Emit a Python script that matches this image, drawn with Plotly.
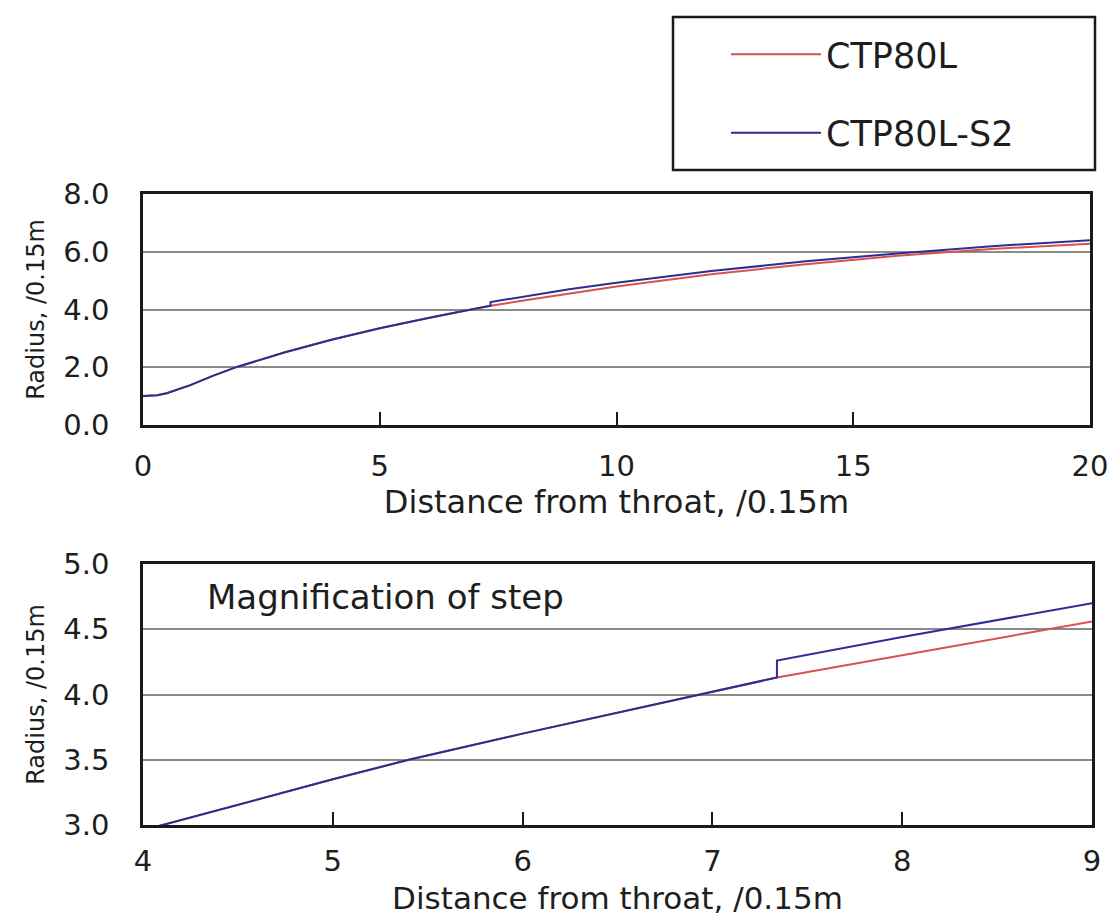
import plotly.graph_objects as go

# ---- data ----
ctp80l_x = [0, 0.3, 0.5, 0.75, 1, 1.5, 2, 3, 4, 5, 5.4, 6, 6.5, 7, 7.34,
            8, 9, 10, 12, 14, 16, 18, 20]
ctp80l_y = [1.0, 1.03, 1.1, 1.24, 1.38, 1.72, 2.02, 2.52, 2.96, 3.35, 3.5, 3.7, 3.86, 4.02, 4.13,
            4.30, 4.56, 4.80, 5.22, 5.57, 5.87, 6.10, 6.28]

ctp80ls2_x = [0, 0.3, 0.5, 0.75, 1, 1.5, 2, 3, 4, 5, 5.4, 6, 6.5, 7, 7.34,
              7.34, 8, 9, 10, 12, 14, 16, 18, 20]
ctp80ls2_y = [1.0, 1.03, 1.1, 1.24, 1.38, 1.72, 2.02, 2.52, 2.96, 3.35, 3.5, 3.7, 3.86, 4.02, 4.13,
              4.26, 4.44, 4.70, 4.93, 5.33, 5.67, 5.95, 6.20, 6.40]

top_xticks = [0, 5, 10, 15, 20]
top_yticks = [0.0, 2.0, 4.0, 6.0, 8.0]
bot_xticks = [4, 5, 6, 7, 8, 9]
bot_yticks = [3.0, 3.5, 4.0, 4.5, 5.0]

series_names = ["CTP80L", "CTP80L-S2"]
x_title = "Distance from throat, /0.15m"
y_title = "Radius, /0.15m"
note_text = "Magnification of step"

RED = "#d9524f"
BLUE = "#2d2d96"
FONT = "DejaVu Sans"
TXT = "#1e1e1e"

W, H = 1113, 916
def px_x(p): return p / W
def px_y(p): return 1 - p / H

fig = go.Figure()

for xa, ya, show in [("x", "y", True), ("x2", "y2", False)]:
    fig.add_trace(go.Scatter(x=ctp80l_x, y=ctp80l_y, mode="lines", name=series_names[0],
                             line=dict(color=RED, width=2), xaxis=xa, yaxis=ya,
                             showlegend=show, legendgroup="a"))
    fig.add_trace(go.Scatter(x=ctp80ls2_x, y=ctp80ls2_y, mode="lines", name=series_names[1],
                             line=dict(color=BLUE, width=2), xaxis=xa, yaxis=ya,
                             showlegend=show, legendgroup="b"))

axis_common = dict(showline=True, mirror=True, linecolor="#1a1a1a", linewidth=2.5,
                   automargin=False,
                   tickfont=dict(family=FONT, size=29, color=TXT), zeroline=False)
ytitle_font = dict(family=FONT, size=24, color=TXT)

fig.update_layout(
    template="none",
    width=W, height=H,
    margin=dict(l=0, r=0, t=0, b=0, autoexpand=False),
    paper_bgcolor="white", plot_bgcolor="white",
    font=dict(family=FONT, color=TXT),
    xaxis=dict(domain=[px_x(143), px_x(1090)], anchor="y", range=[0, 20], tickvals=top_xticks,
               ticks="inside", ticklen=13, tickwidth=1.5, tickcolor="#1a1a1a",
               showgrid=False, ticklabelstandoff=13,
               title=dict(text=x_title, font=dict(family=FONT, size=32, color=TXT), standoff=3),
               **axis_common),
    yaxis=dict(domain=[px_y(425), px_y(194)], anchor="x", range=[0, 8], tickvals=top_yticks,
               tickformat=".1f", ticks="", showgrid=True, gridcolor="#8a8a8a", gridwidth=2,
               ticklabelstandoff=25,
               title=dict(text=y_title, font=ytitle_font, standoff=12),
               **axis_common),
    xaxis2=dict(domain=[px_x(143), px_x(1092)], anchor="y2", range=[4, 9], tickvals=bot_xticks,
                ticks="inside", ticklen=13, tickwidth=1.5, tickcolor="#1a1a1a",
                showgrid=False, ticklabelstandoff=8,
                title=dict(text=x_title, font=dict(family=FONT, size=31, color=TXT), standoff=12),
                **axis_common),
    yaxis2=dict(domain=[px_y(825), px_y(564)], anchor="x2", range=[3, 5], tickvals=bot_yticks,
                tickformat=".1f", ticks="", showgrid=True, gridcolor="#8a8a8a", gridwidth=2,
                ticklabelstandoff=25,
                title=dict(text=y_title, font=ytitle_font, standoff=12),
                **axis_common),
    legend=dict(x=px_x(726), y=px_y(25), xanchor="left", yanchor="top",
                bgcolor="rgba(0,0,0,0)", borderwidth=0,
                font=dict(family=FONT, size=35, color=TXT),
                itemwidth=90, tracegroupgap=30),
    showlegend=True,
)

# legend frame
fig.add_shape(type="rect", xref="paper", yref="paper",
              x0=px_x(673), x1=px_x(1095), y0=px_y(170), y1=px_y(17),
              line=dict(color="#1a1a1a", width=2.5), fillcolor="rgba(0,0,0,0)")

fig.add_annotation(text=note_text, xref="x2 domain", yref="y2 domain",
                   x=(205 - 143) / (1092 - 143), y=(825 - 597) / (825 - 564),
                   xanchor="left", yanchor="middle", showarrow=False,
                   font=dict(family=FONT, size=34, color=TXT))

fig.write_html("out.html")
